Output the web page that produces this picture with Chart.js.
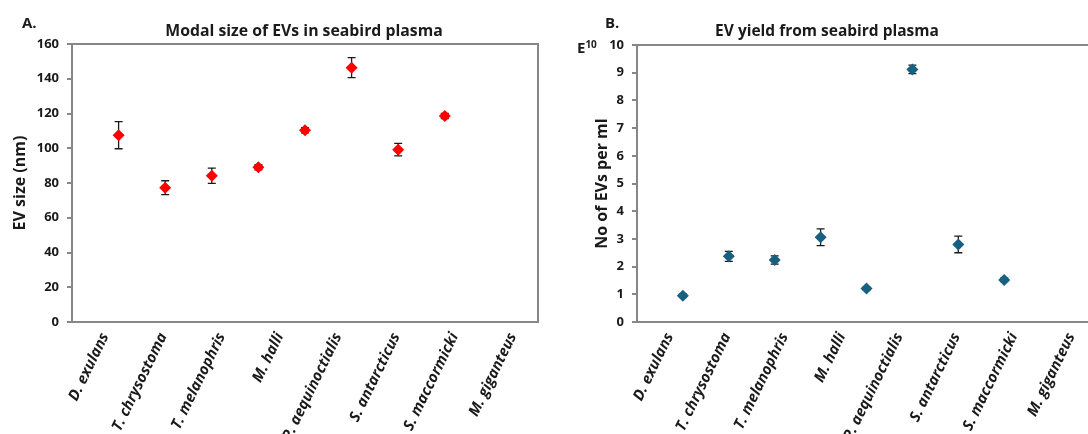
<!DOCTYPE html>
<html>
<head>
<meta charset="utf-8">
<script src="https://cdn.jsdelivr.net/npm/chart.js@4"></script>
<style>
body { margin: 0; width: 1088px; height: 434px; overflow: hidden; background: #fff; position: relative; font-family: "Open Sans", sans-serif; color: #1a1a1a; }
canvas { position: absolute; top: 0; }
.t { position: absolute; font-weight: bold; white-space: nowrap; line-height: 20px; }
.c { transform: translateX(-50%); }
</style>
</head>
<body>
<canvas id="chartA" width="548" height="434" style="left:0"></canvas>
<canvas id="chartB" width="548" height="434" style="left:560px"></canvas>

<div class="t" style="left:22px;top:12px;font-size:15px">A.</div>
<div class="t c" style="left:304px;top:20px;font-size:15.8px">Modal size of EVs in seabird plasma</div>
<div class="t" style="left:605px;top:12px;font-size:15px">B.</div>
<div class="t c" style="left:827px;top:20px;font-size:15.5px">EV yield from seabird plasma</div>
<div class="t" style="left:577px;top:34px;font-size:15px">E<sup style="font-size:10px;vertical-align:5px">10</sup></div>

<script>
// species, in the order they are plotted
const species = ['D. exulans', 'T. chrysostoma', 'T. melanophris', 'M. halli',
    'P. aequinoctialis', 'S. antarcticus', 'S. maccormicki', 'M. giganteus']

// A: modal EV size (nm) with error
const sizeMean = [107.5, 77.3, 84.2, 89.0, 110.3, 146.4, 99.2, 118.5]
const sizeErr = [7.8, 4.0, 4.4, 1.5, 1.5, 5.8, 3.6, 1.5]

// B: EV yield (x 10^10 per ml) with error
const yieldMean = [0.95, 2.37, 2.24, 3.06, 1.21, 9.12, 2.80, 1.52]
const yieldErr = [0.06, 0.18, 0.15, 0.30, 0.05, 0.15, 0.30, 0.06]

const AXIS = '#878787'
const INK = '#1a1a1a'
const FONT = 'Open Sans'

// vertical error bars with caps, under the markers
const errorBars = {
    id: 'errorBars',
    beforeDatasetsDraw(chart, args, opts) {
        const ctx = chart.ctx
        const xs = chart.scales.x
        const ys = chart.scales.y
        const pts = chart.data.datasets[0].data
        ctx.save()
        ctx.strokeStyle = INK
        ctx.lineWidth = 1.3
        opts.errors.forEach((e, i) => {
            const px = xs.getPixelForValue(pts[i].x)
            const top = ys.getPixelForValue(pts[i].y + e)
            const bot = ys.getPixelForValue(pts[i].y - e)
            ctx.beginPath()
            ctx.moveTo(px, top); ctx.lineTo(px, bot)
            ctx.moveTo(px - 4, top); ctx.lineTo(px + 4, top)
            ctx.moveTo(px - 4, bot); ctx.lineTo(px + 4, bot)
            ctx.stroke()
        })
        ctx.restore()
    }
}

// top and right edges of the plot box
const frame = {
    id: 'frame',
    afterDraw(chart) {
        const { ctx, chartArea: a } = chart
        ctx.save()
        ctx.strokeStyle = AXIS
        ctx.lineWidth = 2
        ctx.beginPath()
        ctx.moveTo(a.left, a.top); ctx.lineTo(a.right, a.top); ctx.lineTo(a.right, a.bottom)
        ctx.stroke()
        ctx.restore()
    }
}

function makeChart(id, means, errs, color, yMax, step, yTitle, yWidth, pad, titleOffset) {
    const tickFont = { family: FONT, size: 13, weight: 'bold' }
    return new Chart(document.getElementById(id), {
        type: 'scatter',
        data: {
            datasets: [{
                data: means.map((v, i) => ({ x: i + 1, y: v })),
                pointStyle: 'rectRot',
                pointRadius: 6,
                backgroundColor: color,
                borderColor: color,
                borderWidth: 0
            }]
        },
        options: {
            responsive: false,
            animation: false,
            devicePixelRatio: 1,
            layout: { padding: pad },
            plugins: {
                legend: { display: false },
                tooltip: { enabled: false },
                errorBars: { errors: errs }
            },
            scales: {
                x: { type: 'linear', min: 0, max: 10, display: false },
                xc: {
                    type: 'category',
                    labels: species,
                    position: 'bottom',
                    offset: true,
                    grid: { display: false },
                    border: { display: true, color: AXIS, width: 2 },
                    ticks: {
                        autoSkip: false,
                        minRotation: 64,
                        maxRotation: 64,
                        padding: 0,
                        labelOffset: 4,
                        color: INK,
                        font: { family: FONT, size: 15, weight: 'bold', style: 'italic' }
                    },
                    afterFit(s) { s.height = 112 }
                },
                y: {
                    min: 0,
                    max: yMax,
                    ticks: { stepSize: step, padding: 8, color: INK, font: tickFont },
                    grid: { drawOnChartArea: false, drawTicks: true, tickLength: 5, color: AXIS, lineWidth: 2 },
                    border: { color: AXIS, width: 2 },
                    title: {
                        display: true,
                        text: yTitle,
                        color: INK,
                        font: { family: FONT, size: 16, weight: 'bold' },
                        padding: { top: titleOffset, bottom: 0 }
                    },
                    afterFit(s) { s.width = yWidth }
                }
            }
        },
        plugins: [errorBars, frame]
    })
}

makeChart('chartA', sizeMean, sizeErr, '#ff0000', 160, 20, 'EV size (nm)', 72,
    { left: 0, top: 44, right: 10, bottom: 0 }, 11)
makeChart('chartB', yieldMean, yieldErr, '#17607f', 10, 1, 'No of EVs per ml', 77,
    { left: 0, top: 45, right: 12, bottom: 0 }, 33)
</script>
</body>
</html>
